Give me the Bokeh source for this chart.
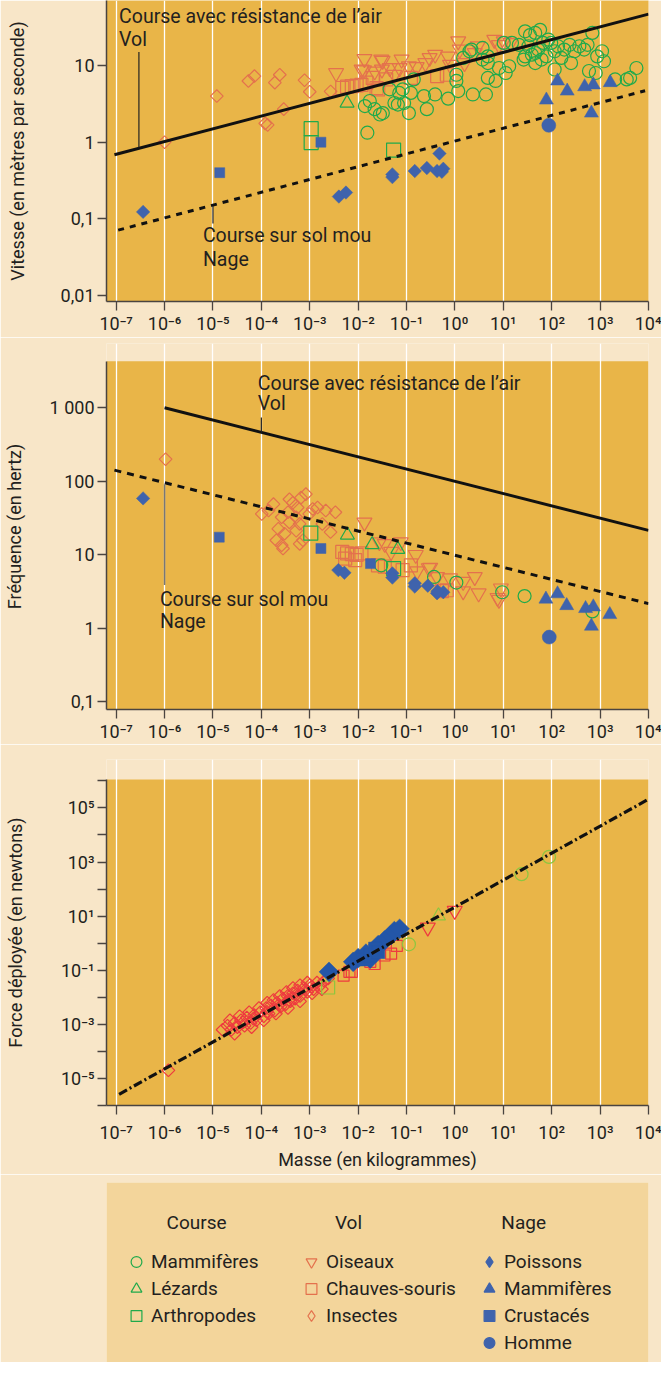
import math
from bokeh.plotting import figure
from bokeh.models import Range1d, FixedTicker, Label, Legend, LegendItem, BoxAnnotation
from bokeh.layouts import column
from bokeh.embed import file_html
from bokeh.resources import INLINE

# ---------------- data ----------------
mass_ticks = [1e-7, 1e-6, 1e-5, 1e-4, 1e-3, 1e-2, 1e-1, 1e0, 1e1, 1e2, 1e3, 1e4]
mass_tick_labels = ["10⁻⁷", "10⁻⁶", "10⁻⁵", "10⁻⁴", "10⁻³", "10⁻²", "10⁻¹",
                    "10⁰", "10¹", "10²", "10³", "10⁴"]
speed_ticks = [0.01, 0.1, 1.0, 10.0]
speed_tick_labels = ["0,01", "0,1", "1", "10"]
freq_ticks = [0.1, 1.0, 10.0, 100.0, 1000.0]
freq_tick_labels = ["0,1", "1", "10", "100", "1 000"]
force_ticks = [1e-6, 1e-5, 1e-4, 1e-3, 1e-2, 1e-1, 1e0, 1e1, 1e2, 1e3, 1e4, 1e5, 1e6]
force_tick_labels = ["", "10⁻⁵", "", "10⁻³", "", "10⁻¹", "", "10¹", "", "10³", "", "10⁵", ""]

# --- speed (m/s) vs mass (kg)
speed_insect_m = [1.0e-6, 1.2e-5, 5.4e-5, 7.2e-5, 1.9e-4, 2.4e-4, 2.9e-4, 1.2e-4, 1.35e-4, 7.8e-4, 1.0e-3, 2.7e-3]
speed_insect_v = [1.0, 4.0, 6.3, 7.3, 6.0, 7.6, 2.7, 1.76, 1.68, 6.45, 4.55, 4.6]
speed_bird_m = [0.0035, 0.0135, 0.0132, 0.032, 0.031, 0.079, 0.072, 0.112, 0.162, 0.245, 0.30, 0.39, 0.72, 0.79,
                1.17, 1.26, 1.58, 2.57, 2.95, 6.5, 8.1, 10.2, 14.1, 0.022, 0.045, 0.056, 0.030, 0.0118]
speed_bird_v = [8.0, 12.2, 8.7, 11.6, 8.9, 12.0, 9.3, 9.8, 9.6, 10.8, 12.6, 13.9, 13.2, 10.3,
                20.8, 16.2, 10.8, 14.6, 17.9, 21.8, 18.6, 20.8, 19.8, 8.4, 9.3, 7.6, 12.0, 8.9]
speed_bat_m = [0.0047, 0.0059, 0.0074, 0.0093, 0.0117, 0.0148, 0.024, 0.038, 0.123, 0.43, 0.68, 0.020, 0.026]
speed_bat_v = [5.1, 5.3, 5.4, 5.5, 5.6, 6.0, 5.1, 6.6, 6.9, 7.3, 7.6, 6.9, 4.9]
speed_mammal_m = [0.0155, 0.0138, 0.0174, 0.0219, 0.0282, 0.0324, 0.0447, 0.0562, 0.0708, 0.0832, 0.0661, 0.0891,
                  0.112, 0.123, 0.141, 0.229, 0.263, 0.389, 0.724, 1.07, 1.17, 1.07, 2.34, 4.37, 1.48, 2.0, 2.19,
                  3.72, 4.79, 4.79, 4.79, 6.92, 8.13, 11.2, 13.2, 10.2, 15.1, 20.9, 28.2, 35.5, 45.7, 57.5, 33.1,
                  26.3, 38.9, 52.5, 45.7, 61.7, 77.6, 97.7, 115, 115, 135, 182, 234, 251, 295, 372, 468, 550, 692,
                  589, 813, 871, 1096, 1202, 2042, 3548, 4169, 5623, 3.72, 158, 66.1, 85.1, 28.2, 45.7]
speed_mammal_v = [1.33, 2.96, 3.45, 2.7, 2.3, 2.4, 4.9, 3.25, 4.4, 4.9, 3.1, 3.25,
                  2.4, 4.4, 6.6, 4.0, 2.7, 4.2, 3.7, 6.3, 4.65, 7.6, 4.2, 4.2, 12.6, 15.4, 16.2,
                  17.0, 13.2, 10.8, 6.9, 6.3, 9.3, 8.0, 9.8, 19.8, 19.8, 18.7, 28.0, 25.0, 26.7, 29.3, 17.9,
                  12.0, 13.9, 16.2, 10.8, 12.0, 13.2, 19.8, 15.4, 8.9, 17.9, 16.2, 18.7, 10.8, 15.4, 17.9, 16.2, 18.7, 26.7,
                  8.5, 8.0, 13.2, 15.4, 11.4, 6.6, 6.6, 6.9, 9.3, 12.0, 12.6, 19.8, 21.9, 13.2, 14.6]
speed_lizard_m = [0.0059]
speed_lizard_v = [3.25]
speed_arthro_m = [0.00107, 0.00107, 0.054]
speed_arthro_v = [1.5, 0.99, 0.79]
speed_fish_m = [3.6e-7, 0.0040, 0.0056, 0.051, 0.051, 0.148, 0.263, 0.479, 0.427, 0.575, 0.537]
speed_fish_v = [0.123, 0.195, 0.22, 0.38, 0.35, 0.42, 0.46, 0.71, 0.42, 0.45, 0.41]
speed_swim_m = [77.6, 132, 209, 479, 724, 1622, 661]
speed_swim_v = [3.55, 6.3, 4.65, 5.3, 5.6, 6.0, 2.4]
speed_crust_m = [1.38e-5, 0.0017]
speed_crust_v = [0.40, 1.0]
speed_human_m = [87]
speed_human_v = [1.66]
speed_air_m = [9.2e-8, 1e4]
speed_air_v = [0.685, 47.0]
speed_soft_m = [1.1e-7, 8.5e3]
speed_soft_v = [0.071, 4.7]

# --- stride frequency (Hz) vs mass (kg)
freq_insect_m = [1.05e-6, 1.02e-4, 1.41e-4, 1.78e-4, 2.24e-4, 2.04e-4, 2.63e-4, 3.02e-4, 3.8e-4, 3.55e-4, 4.47e-4,
                 5.25e-4, 5.62e-4, 6.61e-4, 8.32e-4, 6.17e-4, 7.24e-4, 9.77e-4, 1.15e-3, 1.45e-3, 2.14e-3, 2.69e-3,
                 3.39e-3, 3.8e-4, 2.63e-4, 5.25e-4, 2.8e-4, 1.82e-3, 6.2e-4]
freq_insect_f = [200, 36, 40, 49, 22.6, 15.8, 13.5, 19.4, 57, 38, 51,
                 32.5, 44, 60, 67, 26.4, 15.8, 36, 42, 44, 40, 20.4,
                 38, 27.6, 32.5, 21.3, 12.2, 26.3, 14.1]
freq_bird_m = [0.0135, 0.0275, 0.0355, 0.076, 0.155, 0.048, 0.309, 0.166, 0.794, 1.48, 2.57, 3.09, 1.48, 7.59,
               0.427, 8.91, 8.13, 0.288]
freq_bird_f = [27.6, 14.9, 14.1, 14.9, 10.0, 11.0, 6.7, 6.0, 4.8, 4.3, 5.0, 3.0, 3.2, 2.6, 5.0, 3.5, 2.45, 6.6]
freq_bat_m = [0.0047, 0.0059, 0.0074, 0.0093, 0.0117, 0.0054, 0.0087, 0.0257, 0.0355, 0.123, 0.083, 0.537, 0.676]
freq_bat_f = [11.0, 10.5, 10.2, 10.0, 10.5, 8.9, 8.5, 7.2, 6.9, 7.2, 6.2, 3.2, 3.3]
freq_lizard_m = [0.0060, 0.0195, 0.066]
freq_lizard_f = [18.6, 13.8, 11.9]
freq_arthro_m = [0.00105, 0.054]
freq_arthro_f = [19.7, 6.5]
freq_mammal_m = [0.030, 0.37, 1.07, 9.5, 27.5, 692]
freq_mammal_f = [7.2, 5.0, 4.2, 3.1, 2.75, 1.7]
freq_fish_m = [3.6e-7, 0.0039, 0.0052, 0.051, 0.051, 0.148, 0.148, 0.275, 0.427, 0.575, 0.437]
freq_fish_f = [58.6, 6.2, 5.7, 5.6, 4.9, 4.1, 3.7, 3.8, 3.0, 3.1, 3.2]
freq_swim_m = [75.9, 132, 204, 501, 724, 1585, 661]
freq_swim_f = [2.5, 2.95, 2.04, 1.86, 1.96, 1.54, 1.07]
freq_crust_m = [1.35e-5, 0.0017, 0.018]
freq_crust_f = [17.4, 12.2, 7.6]
freq_human_m = [89]
freq_human_f = [0.76]
freq_air_m = [1e-6, 1e4]
freq_air_f = [1000, 21.5]
freq_soft_m = [9.2e-8, 1e4]
freq_soft_f = [142, 2.17]

# --- force (N) vs mass (kg)
force_insect_m = [1.2e-6, 2.0e-5, 2.4e-5, 2.8e-5, 3.2e-5, 3.8e-5, 4.5e-5, 5.0e-5, 6.0e-5, 7.1e-5, 7.9e-5, 9.5e-5,
                  1.12e-4, 1.26e-4, 1.41e-4, 1.58e-4, 1.9e-4, 2.1e-4, 2.5e-4, 2.8e-4, 3.2e-4, 3.5e-4, 4.0e-4,
                  4.5e-4, 5.0e-4, 5.6e-4, 6.3e-4, 7.6e-4, 8.9e-4, 1.0e-3, 1.2e-3, 1.41e-3, 1.66e-3, 2.0e-3, 2.4e-3,
                  1.3e-4, 2.3e-4, 3.7e-4, 5.3e-4, 8.2e-4, 1.1e-3, 6.8e-5, 4.2e-5,
                  2.24e-5, 3.55e-5, 5.6e-5, 8.9e-5, 1.32e-4, 1.78e-4, 2.4e-4, 3.3e-4, 4.5e-4, 6.3e-4, 8.9e-4,
                  2.8e-5, 6.3e-5, 1.12e-4, 2.0e-4, 3.55e-4, 6.3e-4, 1.12e-3, 1.78e-3, 1.58e-5]
force_insect_f = [2.0e-5, 8.9e-4, 6.3e-4, 1.12e-3, 7.9e-4, 1.41e-3, 8.9e-4, 1.78e-3, 1.12e-3, 2.2e-3, 1.41e-3, 2.8e-3,
                  2.0e-3, 4.0e-3, 2.5e-3, 5.0e-3, 3.2e-3, 6.3e-3, 4.5e-3, 8.9e-3, 5.6e-3, 1.12e-2, 7.1e-3,
                  1.41e-2, 8.9e-3, 1.78e-2, 1.12e-2, 2.2e-2, 1.58e-2, 2.8e-2, 2.0e-2, 3.5e-2, 2.8e-2, 4.0e-2, 5.0e-2,
                  2.9e-3, 5.3e-3, 8.0e-3, 1.25e-2, 1.9e-2, 2.5e-2, 1.6e-3, 1.2e-3,
                  1.41e-3, 2.0e-3, 2.8e-3, 4.0e-3, 6.3e-3, 7.9e-3, 1.12e-2, 1.58e-2, 2.2e-2, 2.8e-2, 3.5e-2,
                  4.5e-4, 7.9e-4, 1.41e-3, 2.5e-3, 4.0e-3, 7.1e-3, 1.41e-2, 2.0e-2, 6.3e-4]
force_bat_m = [0.0050, 0.0066, 0.0074, 0.0178, 0.0219, 0.035, 0.048, 0.063]
force_bat_f = [0.063, 0.087, 0.087, 0.204, 0.17, 0.35, 0.41, 0.79]
force_bird_m = [0.275, 0.99]
force_bird_f = [3.8, 15.8]
force_mammal_m = [0.112, 23.8, 88]
force_mammal_f = [0.91, 355, 1550]
force_lizard_m = [0.457]
force_lizard_f = [10.2]
force_arthro_m = [0.0024]
force_arthro_f = [0.023]
force_fish_m = [0.0025, 0.0079, 0.010, 0.0145, 0.0178, 0.026, 0.035, 0.048, 0.056, 0.072]
force_fish_f = [0.087, 0.204, 0.28, 0.41, 0.27, 0.85, 1.26, 2.0, 2.8, 3.4]
force_crust_m = [0.0126, 0.0178, 0.0224, 0.026]
force_crust_f = [0.25, 0.355, 0.63, 0.47]
force_fit_m = [1.15e-7, 1e4]
force_fit_f = [2.6e-6, 2.1e5]

# ---------------- style ----------------
FONT = "Roboto"
CREAM = "#F8E6C8"
GOLD = "#E9B548"
LEG_BG = "#F3D59B"
ORANGE = "#E4714D"
GREEN = "#1FAA4B"
BLUE = "#3F63AC"
RED = "#EE3A3F"
BLUE2 = "#2356A8"
GREEN2 = "#8CC63F"
INK = "#231F20"
AXIS = "#4A4440"
DIAG = math.pi / 4

X_RANGE = (10 ** -7.2, 1e4)


def base_fig(height, y_range, top, bottom, ylabel, yticks, ylabels, label_standoff,
             xstandoff=2, gold_top=None):
    p = figure(width=661, height=height, x_axis_type="log", y_axis_type="log",
               x_range=Range1d(*X_RANGE), y_range=Range1d(*y_range),
               output_backend="svg", toolbar_location=None,
               min_border_left=100, min_border_right=13, min_border_top=top, min_border_bottom=bottom)
    p.border_fill_color = CREAM
    if gold_top is None:
        p.background_fill_color = GOLD
    else:
        # plotting panel ends below the top of the frame: the grid lines run on above it
        p.background_fill_color = CREAM
        p.add_layout(BoxAnnotation(top=gold_top, fill_color=GOLD, fill_alpha=1.0,
                                   line_color=None, level="image"))
        p.yaxis.bounds = (y_range[0], gold_top)
    p.outline_line_color = None
    p.xgrid.grid_line_color = "white"
    p.xgrid.grid_line_width = 1.3
    p.ygrid.grid_line_color = None
    p.xaxis.ticker = FixedTicker(ticks=mass_ticks, minor_ticks=[])
    p.xaxis.major_label_overrides = dict(zip(mass_ticks, mass_tick_labels))
    p.yaxis.ticker = FixedTicker(ticks=yticks, minor_ticks=[])
    p.yaxis.major_label_overrides = dict(zip(yticks, ylabels))
    for ax in (p.xaxis, p.yaxis):
        ax.axis_line_color = AXIS
        ax.axis_line_width = 1.5
        ax.major_tick_line_color = AXIS
        ax.major_tick_line_width = 1.3
        ax.major_tick_in = 0
        ax.major_tick_out = 9
        ax.minor_tick_line_color = None
        ax.major_label_text_font = FONT
        ax.major_label_text_font_size = "18px"
        ax.major_label_text_color = INK
    p.xaxis.major_label_standoff = xstandoff
    p.yaxis.major_label_standoff = 3
    p.yaxis.axis_label = ylabel
    p.yaxis.axis_label_text_font = FONT
    p.yaxis.axis_label_text_font_size = "18px"
    p.yaxis.axis_label_text_font_style = "normal"
    p.yaxis.axis_label_text_color = INK
    p.yaxis.axis_label_standoff = label_standoff
    return p


def add_points(p, groups):
    for (xs, ys, marker, size, color, filled, angle) in groups:
        p.scatter(x=xs, y=ys, marker=marker, size=size, angle=angle,
                  fill_color=color if filled else None, line_color=color,
                  line_width=1.2 if not filled else 0.5)


def add_text(p, x, y, text, size="19.5px"):
    p.add_layout(Label(x=x, y=y, text=text, text_font=FONT, text_font_size=size,
                       text_color=INK, text_baseline="middle", text_align="left"))


# ---------------- top: speed ----------------
p1 = base_fig(337, (10 ** -2.08, 10 ** 1.85), 0, 36, "Vitesse (en mètres par seconde)",
              speed_ticks, speed_tick_labels, 30)
add_points(p1, [
    (speed_insect_m, speed_insect_v, "square", 9, ORANGE, False, DIAG),
    (speed_bird_m, speed_bird_v, "inverted_triangle", 15, ORANGE, False, 0),
    (speed_bat_m, speed_bat_v, "square", 13, ORANGE, False, 0),
    (speed_mammal_m, speed_mammal_v, "circle", 13, GREEN, False, 0),
    (speed_lizard_m, speed_lizard_v, "triangle", 14, GREEN, False, 0),
    (speed_arthro_m, speed_arthro_v, "square", 14, GREEN, False, 0),
    (speed_fish_m, speed_fish_v, "square", 9.5, BLUE, True, DIAG),
    (speed_swim_m, speed_swim_v, "triangle", 14, BLUE, True, 0),
    (speed_crust_m, speed_crust_v, "square", 10, BLUE, True, 0),
    (speed_human_m, speed_human_v, "circle", 14, BLUE, True, 0),
])
p1.line(speed_air_m, speed_air_v, line_color="#111111", line_width=3)
p1.line(speed_soft_m, speed_soft_v, line_color="#111111", line_width=3, line_dash="6 6")
p1.segment(x0=[2.95e-7], y0=[0.85], x1=[2.95e-7], y1=[15.1], line_color="#222222", line_width=1.2)
p1.segment(x0=[1e-5], y0=[0.087], x1=[1e-5], y1=[0.148], line_color="#222222", line_width=1.2)
add_text(p1, 1.15e-7, 43.6, "Course avec résistance de l’air")
add_text(p1, 1.15e-7, 22.1, "Vol")
add_text(p1, 6.2e-6, 0.060, "Course sur sol mou")
add_text(p1, 6.2e-6, 0.0297, "Nage")

# ---------------- middle: frequency ----------------
p2 = base_fig(407, (10 ** -1.104, 10 ** 3.875), 6, 31, "Fréquence (en hertz)",
              freq_ticks, freq_tick_labels, 22, gold_top=10 ** 3.633)
add_points(p2, [
    (freq_insect_m, freq_insect_f, "square", 9, ORANGE, False, DIAG),
    (freq_bird_m, freq_bird_f, "inverted_triangle", 15, ORANGE, False, 0),
    (freq_bat_m, freq_bat_f, "square", 13, ORANGE, False, 0),
    (freq_mammal_m, freq_mammal_f, "circle", 13, GREEN, False, 0),
    (freq_lizard_m, freq_lizard_f, "triangle", 14, GREEN, False, 0),
    (freq_arthro_m, freq_arthro_f, "square", 14, GREEN, False, 0),
    (freq_fish_m, freq_fish_f, "square", 9.5, BLUE, True, DIAG),
    (freq_swim_m, freq_swim_f, "triangle", 14, BLUE, True, 0),
    (freq_crust_m, freq_crust_f, "square", 10, BLUE, True, 0),
    (freq_human_m, freq_human_f, "circle", 14, BLUE, True, 0),
])
p2.line(freq_air_m, freq_air_f, line_color="#111111", line_width=3)
p2.line(freq_soft_m, freq_soft_f, line_color="#111111", line_width=3, line_dash="7 6")
p2.segment(x0=[1e-4], y0=[461], x1=[1e-4], y1=[741], line_color="#222222", line_width=1.2)
p2.segment(x0=[1e-6], y0=[3.9], x1=[1e-6], y1=[91], line_color="#777777", line_width=1.5)
add_text(p2, 8.45e-5, 2127, "Course avec résistance de l’air")
add_text(p2, 8.45e-5, 1143, "Vol")
add_text(p2, 8.0e-7, 2.5, "Course sur sol mou")
add_text(p2, 8.0e-7, 1.25, "Nage")

# ---------------- bottom: force ----------------
p3 = base_fig(430, (1e-6, 10 ** 6.79), 15, 69, "Force déployée (en newtons)",
              force_ticks, force_tick_labels, 32, xstandoff=7, gold_top=10 ** 6.05)
add_points(p3, [
    (force_insect_m, force_insect_f, "square", 9, RED, False, DIAG),
    (force_bat_m, force_bat_f, "square", 11, RED, False, 0),
    (force_bird_m, force_bird_f, "inverted_triangle", 15, RED, False, 0),
    (force_mammal_m, force_mammal_f, "circle", 13, GREEN2, False, 0),
    (force_lizard_m, force_lizard_f, "triangle", 14, GREEN2, False, 0),
    (force_arthro_m, force_arthro_f, "square", 13, GREEN2, False, 0),
    (force_fish_m, force_fish_f, "square", 14, BLUE2, True, DIAG),
    (force_crust_m, force_crust_f, "square", 13, BLUE2, True, 0),
])
p3.line(force_fit_m, force_fit_f, line_color="#111111", line_width=3.2, line_dash="9 3 2 3")
p3.xaxis.axis_label = "Masse (en kilogrammes)"
p3.xaxis.axis_label_text_font = FONT
p3.xaxis.axis_label_text_font_size = "18px"
p3.xaxis.axis_label_text_font_style = "normal"
p3.xaxis.axis_label_text_color = INK
p3.xaxis.axis_label_standoff = 3

# ---------------- legend panel ----------------
p4 = figure(width=661, height=188, x_range=Range1d(0, 560), y_range=Range1d(0, 180),
            output_backend="svg", toolbar_location=None, x_axis_location=None, y_axis_location=None,
            min_border_left=101, min_border_right=0, min_border_top=8, min_border_bottom=0)
p4.background_fill_color = LEG_BG
p4.border_fill_color = CREAM
p4.outline_line_color = None
p4.grid.visible = False


def proxy(xs, ys, marker, color, filled):
    # hidden renderer that only provides the legend glyph
    return p4.scatter(x=xs, y=ys, marker=marker, size=12, visible=False,
                      fill_color=color if filled else None, line_color=color, line_width=1.2)


columns = [
    ("Course", 93, 15, 33, [
        ("Mammifères", proxy(speed_mammal_m, speed_mammal_v, "circle", GREEN, False)),
        ("Lézards", proxy(speed_lizard_m, speed_lizard_v, "triangle", GREEN, False)),
        ("Arthropodes", proxy(speed_arthro_m, speed_arthro_v, "square", GREEN, False))]),
    ("Vol", 250, 190, 33, [
        ("Oiseaux", proxy(speed_bird_m, speed_bird_v, "inverted_triangle", ORANGE, False)),
        ("Chauves-souris", proxy(speed_bat_m, speed_bat_v, "square", ORANGE, False)),
        ("Insectes", proxy(speed_insect_m, speed_insect_v, "diamond", ORANGE, False))]),
    ("Nage", 431, 368, 6, [
        ("Poissons", proxy(speed_fish_m, speed_fish_v, "diamond", BLUE, True)),
        ("Mammifères", proxy(speed_swim_m, speed_swim_v, "triangle", BLUE, True)),
        ("Crustacés", proxy(speed_crust_m, speed_crust_v, "square", BLUE, True)),
        ("Homme", proxy(speed_human_m, speed_human_v, "circle", BLUE, True))]),
]
for title, cx, vx, vy, items in columns:
    p4.add_layout(Label(x=cx, y=140, text=title, text_font=FONT, text_font_size="19px",
                        text_color=INK, text_align="center", text_baseline="middle"))
    leg = Legend(items=[LegendItem(label=t, renderers=[r]) for t, r in items],
                 location=(vx, vy), orientation="vertical",
                 glyph_width=30, glyph_height=27, label_height=27, spacing=0,
                 padding=0, margin=0, label_standoff=-2,
                 border_line_color=None, background_fill_alpha=0,
                 label_text_font=FONT, label_text_font_size="19px", label_text_color=INK)
    p4.add_layout(leg)

layout = column(p1, p2, p3, p4, spacing=0)
open("out.html", "w").write(file_html(layout, INLINE))
